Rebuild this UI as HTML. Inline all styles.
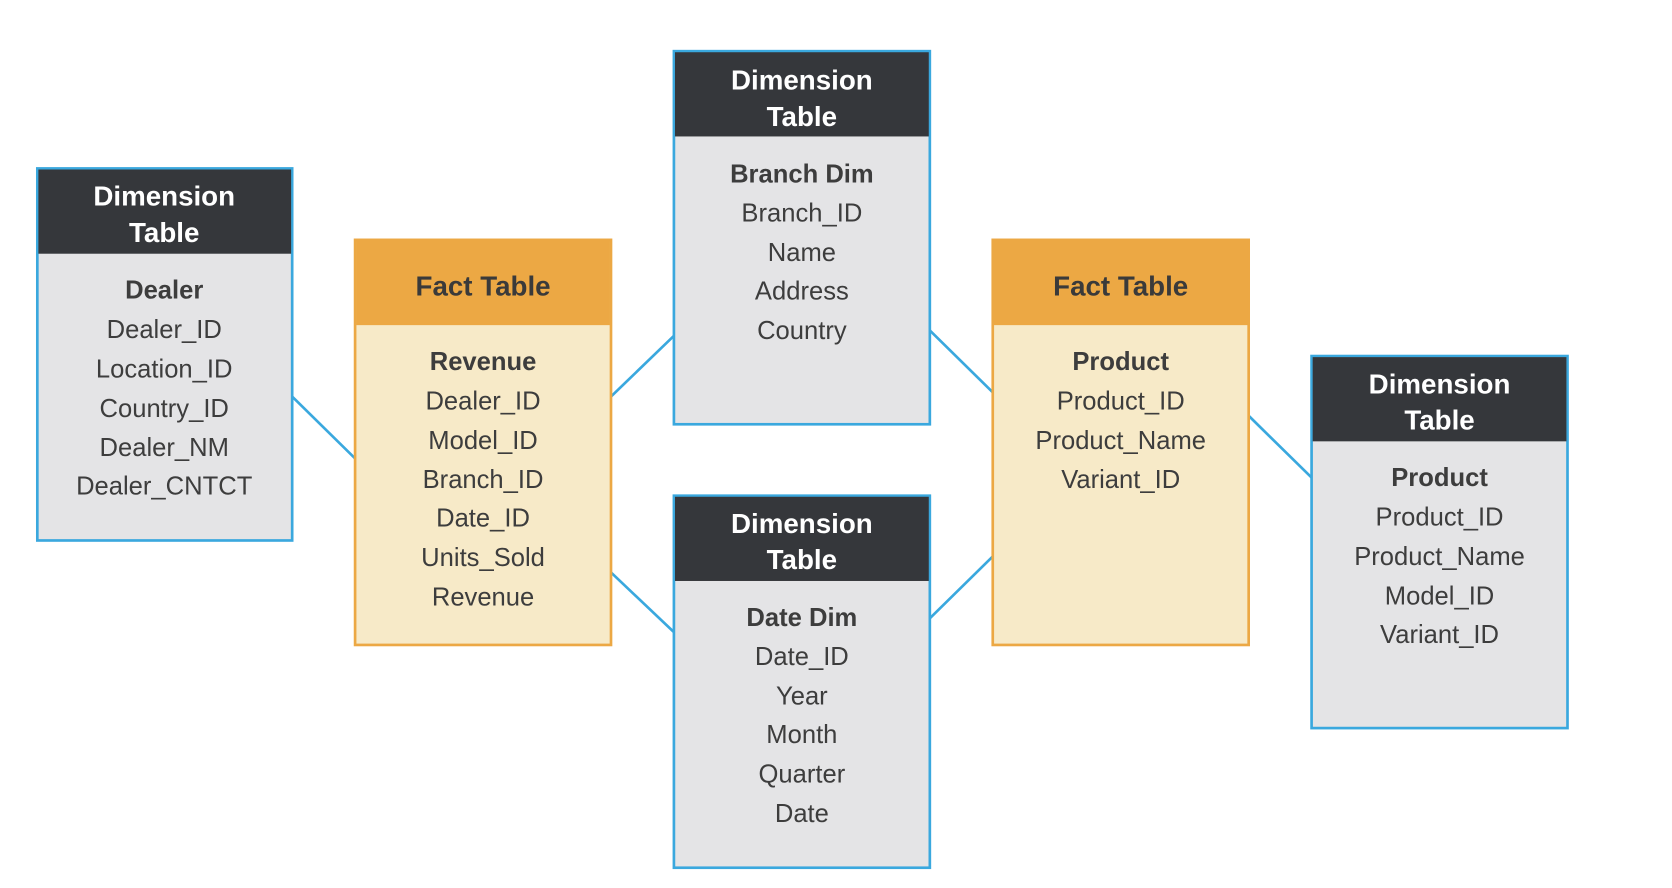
<!DOCTYPE html>
<html><head><meta charset="utf-8"><style>
html,body{margin:0;padding:0;background:#fff;}
svg{display:block;}
text{font-family:"Liberation Sans",sans-serif;text-anchor:middle;}
.h{fill:#fff;font-weight:bold;font-size:26px;}
.fh{fill:#3a3a3a;font-weight:bold;font-size:26px;}
.r{fill:#3d3d3d;font-size:24px;}
.b{fill:#3d3d3d;font-size:24px;font-weight:bold;}
</style></head><body>
<svg width="1672" height="888" viewBox="0 0 1568 833" preserveAspectRatio="none">
<g stroke="#3aa8de" stroke-width="2.5" fill="none">
<line x1="274" y1="372" x2="333" y2="430"/>
<line x1="573" y1="372" x2="632" y2="315"/>
<line x1="573" y1="537" x2="632" y2="593"/>
<line x1="872" y1="310" x2="931" y2="368"/>
<line x1="872" y1="580" x2="931" y2="522"/>
<line x1="1171" y1="390" x2="1230" y2="448"/>
</g>
<rect x="35" y="158" width="239" height="349" fill="#e4e4e6" stroke="#3aa8de" stroke-width="2.5"/>
<rect x="36" y="159" width="237" height="79" fill="#35373b"/>
<text class="h" x="154" y="193">Dimension</text><text class="h" x="154" y="227">Table</text>
<text class="b" x="154" y="280">Dealer</text>
<text class="r" x="154" y="317">Dealer_ID</text>
<text class="r" x="154" y="354">Location_ID</text>
<text class="r" x="154" y="391">Country_ID</text>
<text class="r" x="154" y="428">Dealer_NM</text>
<text class="r" x="154" y="464">Dealer_CNTCT</text>
<rect x="333" y="225" width="240" height="380" fill="#f7eac8" stroke="#eca844" stroke-width="2.5"/>
<rect x="334" y="226" width="238" height="79" fill="#eca844"/>
<text class="fh" x="453" y="277">Fact Table</text>
<text class="b" x="453" y="347">Revenue</text>
<text class="r" x="453" y="384">Dealer_ID</text>
<text class="r" x="453" y="421">Model_ID</text>
<text class="r" x="453" y="458">Branch_ID</text>
<text class="r" x="453" y="494">Date_ID</text>
<text class="r" x="453" y="531">Units_Sold</text>
<text class="r" x="453" y="568">Revenue</text>
<rect x="632" y="48" width="240" height="350" fill="#e4e4e6" stroke="#3aa8de" stroke-width="2.5"/>
<rect x="633" y="49" width="238" height="79" fill="#35373b"/>
<text class="h" x="752" y="84">Dimension</text><text class="h" x="752" y="118">Table</text>
<text class="b" x="752" y="171">Branch Dim</text>
<text class="r" x="752" y="208">Branch_ID</text>
<text class="r" x="752" y="245">Name</text>
<text class="r" x="752" y="281">Address</text>
<text class="r" x="752" y="318">Country</text>
<rect x="632" y="465" width="240" height="349" fill="#e4e4e6" stroke="#3aa8de" stroke-width="2.5"/>
<rect x="633" y="466" width="238" height="79" fill="#35373b"/>
<text class="h" x="752" y="500">Dimension</text><text class="h" x="752" y="534">Table</text>
<text class="b" x="752" y="587">Date Dim</text>
<text class="r" x="752" y="624">Date_ID</text>
<text class="r" x="752" y="661">Year</text>
<text class="r" x="752" y="697">Month</text>
<text class="r" x="752" y="734">Quarter</text>
<text class="r" x="752" y="771">Date</text>
<rect x="931" y="225" width="240" height="380" fill="#f7eac8" stroke="#eca844" stroke-width="2.5"/>
<rect x="932" y="226" width="238" height="79" fill="#eca844"/>
<text class="fh" x="1051" y="277">Fact Table</text>
<text class="b" x="1051" y="347">Product</text>
<text class="r" x="1051" y="384">Product_ID</text>
<text class="r" x="1051" y="421">Product_Name</text>
<text class="r" x="1051" y="458">Variant_ID</text>
<rect x="1230" y="334" width="240" height="349" fill="#e4e4e6" stroke="#3aa8de" stroke-width="2.5"/>
<rect x="1231" y="335" width="238" height="79" fill="#35373b"/>
<text class="h" x="1350" y="369">Dimension</text><text class="h" x="1350" y="403">Table</text>
<text class="b" x="1350" y="456">Product</text>
<text class="r" x="1350" y="493">Product_ID</text>
<text class="r" x="1350" y="530">Product_Name</text>
<text class="r" x="1350" y="567">Model_ID</text>
<text class="r" x="1350" y="603">Variant_ID</text>
</svg>
</body></html>
